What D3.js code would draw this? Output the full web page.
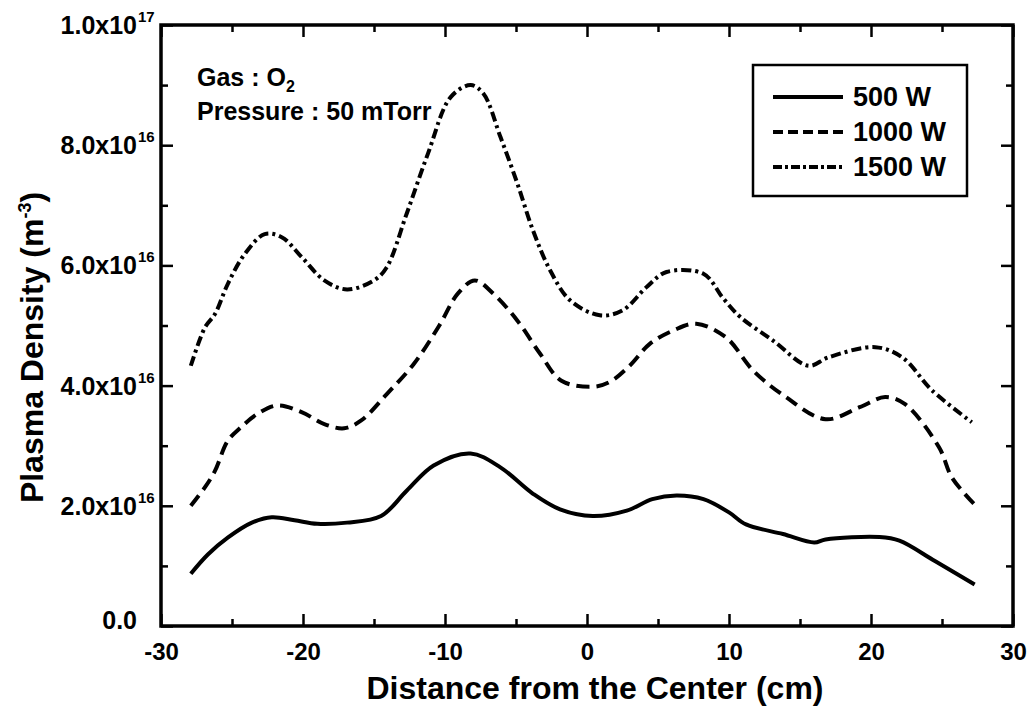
<!DOCTYPE html>
<html>
<head>
<meta charset="utf-8">
<script src="https://cdn.jsdelivr.net/npm/d3@7"></script>
<style>
  html, body { margin: 0; padding: 0; background: #fff; }
  svg text { font-family: "Liberation Sans", Arial, Helvetica, sans-serif; font-weight: bold; fill: #000; }
</style>
</head>
<body>
<svg id="chart" width="1031" height="722"></svg>
<script>
// ---- data (x in cm, density in units of 1e16 m^-3) ----
const x500  = [-27.9,-26.7,-25.3,-23.6,-22.2,-20.6,-19.0,-16.9,-14.5,-12.7,-10.8,-8.2,-6.1,-3.8,-1.9,0.4,2.8,4.6,6.3,8.2,10.0,11.2,13.8,16.0,16.8,20.6,22.0,24.5,27.3];
const y500  = [0.87,1.19,1.47,1.72,1.81,1.76,1.70,1.72,1.83,2.25,2.67,2.87,2.64,2.20,1.94,1.83,1.92,2.11,2.17,2.11,1.89,1.69,1.53,1.39,1.44,1.48,1.42,1.08,0.69];

const x1000 = [-27.9,-26.9,-26.2,-25.3,-24.4,-23.2,-21.8,-20.1,-18.5,-17.1,-15.9,-14.1,-12.2,-10.4,-9.1,-7.9,-6.6,-4.9,-3.3,-1.8,0.4,1.6,3.0,4.4,6.1,7.7,9.8,11.7,14.0,16.8,19.2,21.0,22.4,24.8,25.7,27.3];
const y1000 = [2.00,2.31,2.58,3.08,3.30,3.53,3.67,3.56,3.36,3.29,3.42,3.86,4.36,5.00,5.53,5.75,5.53,5.08,4.53,4.08,3.98,4.06,4.33,4.69,4.92,5.03,4.80,4.25,3.81,3.44,3.64,3.81,3.69,2.97,2.47,2.02];

const x1500 = [-27.9,-26.9,-26.2,-25.3,-24.1,-22.7,-21.5,-20.1,-18.5,-16.9,-15.0,-14.1,-12.7,-11.2,-9.6,-8.2,-7.3,-6.1,-4.9,-3.8,-2.6,-1.2,0.9,2.5,4.2,5.6,8.2,9.6,10.8,13.1,15.6,17.0,20.3,22.2,24.3,27.1];
const y1500 = [4.33,4.97,5.19,5.69,6.19,6.52,6.47,6.14,5.75,5.60,5.75,5.97,6.86,7.86,8.80,9.00,8.86,8.14,7.36,6.58,5.92,5.42,5.17,5.25,5.64,5.89,5.86,5.45,5.14,4.75,4.33,4.47,4.64,4.47,3.92,3.39];

const seriesNames = ["500 W", "1000 W", "1500 W"];
const xMajorTicks = [-30,-20,-10,0,10,20,30];
const xTickLabels = ["-30","-20","-10","0","10","20","30"];
const xMinorTicks = [-25,-15,-5,5,15,25];
const yMajorTicks = [0,2,4,6,8,10];            // x 1e16
const yMinorTicks = [1,3,5,7,9];
const yTickMantissa = ["0.0","2.0x10","4.0x10","6.0x10","8.0x10","1.0x10"];
const yTickExponent = ["","16","16","16","16","17"];

// ---- layout ----
const svg = d3.select("#chart");
const L = 161, R = 1013, T = 25, B = 626;
const x = d3.scaleLinear().domain([-30, 30]).range([L, R]);
const y = d3.scaleLinear().domain([0, 10]).range([B, T]);

const styles = [
  { dash: null,        width: 4 },
  { dash: "13,7",      width: 4 },
  { dash: "10,4,3,4",  width: 4 }
];

// ---- axes (inward ticks, mirrored) ----
function styleAxis(g) {
  g.select(".domain").remove();
  g.selectAll(".tick line").attr("stroke", "#000").attr("stroke-width", 2.5);
}
const axB = svg.append("g").attr("transform", `translate(0,${B})`)
  .call(d3.axisBottom(x).tickValues(xMajorTicks).tickSize(-12).tickPadding(17)
        .tickFormat((d, i) => xTickLabels[i]));
styleAxis(axB);
axB.selectAll("text").attr("font-size", 24).attr("font-family", "Liberation Sans, Arial, sans-serif").attr("font-weight", "bold").attr("fill", "#000");
const axBm = svg.append("g").attr("transform", `translate(0,${B})`)
  .call(d3.axisBottom(x).tickValues(xMinorTicks).tickSize(-7).tickFormat(""));
styleAxis(axBm);
const axT = svg.append("g").attr("transform", `translate(0,${T})`)
  .call(d3.axisTop(x).tickValues(xMajorTicks).tickSize(-12).tickFormat(""));
styleAxis(axT);
const axTm = svg.append("g").attr("transform", `translate(0,${T})`)
  .call(d3.axisTop(x).tickValues(xMinorTicks).tickSize(-7).tickFormat(""));
styleAxis(axTm);

const axLf = svg.append("g").attr("transform", `translate(${L},0)`)
  .call(d3.axisLeft(y).tickValues(yMajorTicks).tickSize(-12).tickFormat(""));
styleAxis(axLf);
const axLm = svg.append("g").attr("transform", `translate(${L},0)`)
  .call(d3.axisLeft(y).tickValues(yMinorTicks).tickSize(-7).tickFormat(""));
styleAxis(axLm);
const axRt = svg.append("g").attr("transform", `translate(${R},0)`)
  .call(d3.axisRight(y).tickValues(yMajorTicks).tickSize(-12).tickFormat(""));
styleAxis(axRt);
const axRm = svg.append("g").attr("transform", `translate(${R},0)`)
  .call(d3.axisRight(y).tickValues(yMinorTicks).tickSize(-7).tickFormat(""));
styleAxis(axRm);

// y tick labels with superscript exponents
const yl = svg.append("g");
yMajorTicks.forEach((v, i) => {
  const yy = y(v) + (v === 0 ? -6 : 0);
  yl.append("text").attr("x", L - 24).attr("y", yy).attr("dy", "0.36em")
    .attr("text-anchor", "end").attr("font-size", 25).text(yTickMantissa[i]);
  if (yTickExponent[i]) {
    yl.append("text").attr("x", L - 23).attr("y", yy - 3)
      .attr("text-anchor", "start").attr("font-size", 15).text(yTickExponent[i]);
  }
});

// frame
svg.append("rect").attr("x", L).attr("y", T).attr("width", R - L).attr("height", B - T)
  .attr("fill", "none").attr("stroke", "#000").attr("stroke-width", 3.5);

// ---- lines ----
const line = d3.line().x(d => x(d[0])).y(d => y(d[1])).curve(d3.curveCatmullRom.alpha(0.5));
const allData = [
  x500.map((v, i) => [v, y500[i]]),
  x1000.map((v, i) => [v, y1000[i]]),
  x1500.map((v, i) => [v, y1500[i]])
];
allData.forEach((d, i) => {
  svg.append("path").datum(d).attr("d", line)
    .attr("fill", "none").attr("stroke", "#000")
    .attr("stroke-width", styles[i].width)
    .attr("stroke-dasharray", styles[i].dash)
    .attr("stroke-linejoin", "round");
});

// ---- legend ----
const lg = svg.append("g");
lg.append("rect").attr("x", 753).attr("y", 65).attr("width", 214).attr("height", 131)
  .attr("fill", "#fff").attr("stroke", "#000").attr("stroke-width", 2.5);
const legRowY = [97, 132, 167];
seriesNames.forEach((name, i) => {
  lg.append("line").attr("x1", 773).attr("x2", 843).attr("y1", legRowY[i]).attr("y2", legRowY[i])
    .attr("stroke", "#000").attr("stroke-width", styles[i].width)
    .attr("stroke-dasharray", i === 1 ? "10,5" : (i === 2 ? "9,3,3,3" : null));
  lg.append("text").attr("x", 853).attr("y", legRowY[i] + 9).attr("font-size", 27).text(name);
});

// ---- annotations ----
const ann = svg.append("text").attr("x", 197).attr("y", 86).attr("font-size", 25);
ann.append("tspan").text("Gas : O");
ann.append("tspan").attr("font-size", 16).attr("dy", 6).text("2");
svg.append("text").attr("x", 197).attr("y", 120).attr("font-size", 25).text("Pressure : 50 mTorr");

// ---- axis titles ----
svg.append("text").attr("x", (L + R) / 2 + 8).attr("y", 699).attr("text-anchor", "middle")
  .attr("font-size", 32).text("Distance from the Center (cm)");
const yt = svg.append("text").attr("transform", `translate(43,${(T + B) / 2 + 22}) rotate(-90)`)
  .attr("text-anchor", "middle").attr("font-size", 32);
yt.append("tspan").text("Plasma Density (m");
yt.append("tspan").attr("font-size", 18).attr("dy", -12).text("-3");
yt.append("tspan").attr("dy", 12).text(")");
</script>
</body>
</html>
